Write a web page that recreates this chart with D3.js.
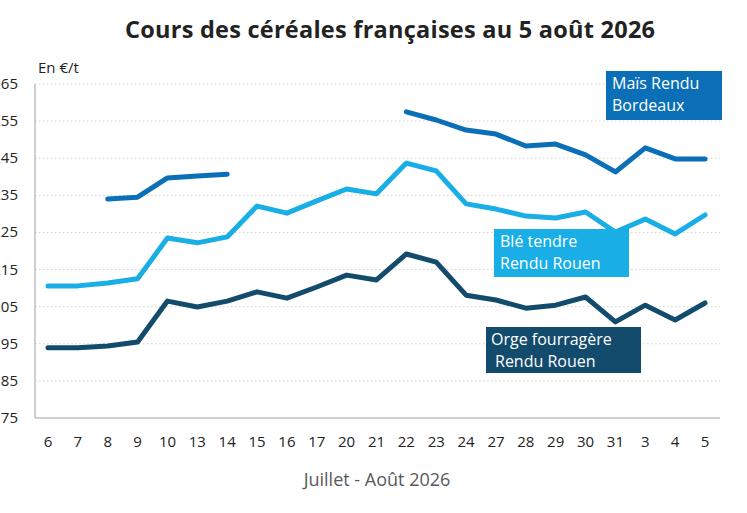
<!DOCTYPE html><html><head><meta charset="utf-8"><script src="https://cdn.jsdelivr.net/npm/d3@7"></script>
<style>body{margin:0;background:#fff}text{font-family:"Open Sans",sans-serif}</style></head><body><svg id="c" width="747" height="513"></svg>
<script>
const categories=["6","7","8","9","10","13","14","15","16","17","20","21","22","23","24","27","28","29","30","31","3","4","5"];
const ble=[210.6,210.6,211.4,212.5,223.5,222.2,223.8,232.1,230.2,233.5,236.7,235.4,243.7,241.6,232.7,231.3,229.4,228.9,230.5,225.1,228.6,224.6,229.7];
const orge=[193.9,193.9,194.4,195.5,206.5,204.9,206.5,209,207.3,210.3,213.5,212.2,219.2,217,208.1,206.8,204.6,205.4,207.6,200.9,205.4,201.4,206];
const mais=[null,null,234,234.5,239.7,240.2,240.7,null,null,null,null,null,257.5,255.3,252.6,251.5,248.3,248.8,245.9,241.3,247.8,244.8,244.8];
const yTicks=[175,185,195,205,215,225,235,245,255,265];
const svg=d3.select("#c");
const x=d3.scalePoint().domain(categories).range([48,705]);
const y=d3.scaleLinear().domain([175,265]).range([418,84]);
svg.append("g").selectAll("line").data(yTicks.slice(1)).join("line").attr("x1",35).attr("x2",720).attr("y1",d=>y(d)).attr("y2",d=>y(d)).attr("stroke","#d0d0d0").attr("stroke-dasharray","1.5,2.5");
svg.append("line").attr("x1",35).attr("x2",35).attr("y1",y(265)).attr("y2",418).attr("stroke","#bfbfbf").attr("stroke-width",1.5);
svg.append("line").attr("x1",35).attr("x2",720).attr("y1",418).attr("y2",418).attr("stroke","#bfbfbf").attr("stroke-width",1.5);
svg.append("g").selectAll("text").data(yTicks).join("text").attr("x",18).attr("y",d=>y(d)+5).attr("text-anchor","end").attr("font-size",15).attr("fill","#222").text(d=>d);
svg.append("g").selectAll("text").data(categories).join("text").attr("x",d=>x(d)).attr("y",447).attr("text-anchor","middle").attr("font-size",15).attr("fill","#222").text(d=>d);
const line=d3.line().defined(d=>d!=null).x((d,i)=>x(categories[i])).y(d=>y(d));
[[orge,"#134B6C"],[ble,"#19AEE6"],[mais,"#0B6FB8"]].forEach(([s,c])=>svg.append("path").attr("d",line(s)).attr("fill","none").attr("stroke",c).attr("stroke-width",5).attr("stroke-linecap","round").attr("stroke-linejoin","round"));
function box(x0,y0,w,h,c,lines,tx){svg.append("rect").attr("x",x0).attr("y",y0).attr("width",w).attr("height",h).attr("fill",c);
lines.forEach((t,i)=>svg.append("text").attr("x",x0+tx[i]).attr("y",y0+18+i*22).attr("font-size",16).attr("fill","#fff").text(t));}
box(606,71,116,49,"#0B6FB8",["Maïs Rendu","Bordeaux"],[6,6]);
box(494,229,135,48,"#19AEE6",["Blé tendre","Rendu Rouen"],[6,6]);
box(486,327,155,46,"#134B6C",["Orge fourragère","Rendu Rouen"],[5,9]);
svg.append("text").attr("x",390).attr("y",38).attr("text-anchor","middle").attr("font-size",23.5).attr("font-weight","bold").attr("fill","#222").attr("textLength",530).text("Cours des céréales françaises au 5 août 2026");
svg.append("text").attr("x",38).attr("y",73).attr("font-size",15).attr("fill","#222").text("En €/t");
svg.append("text").attr("x",377).attr("y",486).attr("text-anchor","middle").attr("font-size",18).attr("fill","#595959").text("Juillet - Août 2026");
</script></body></html>
